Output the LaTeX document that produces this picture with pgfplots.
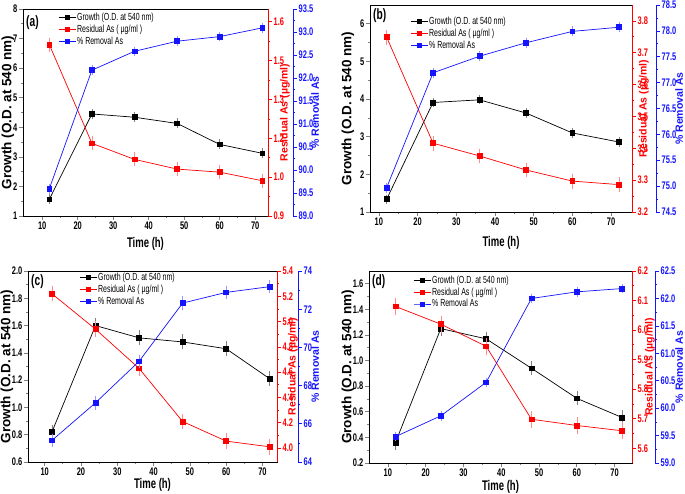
\documentclass[border=0pt]{standalone}
\usepackage{fontspec}
\setmainfont{Liberation Sans}
\newfontfamily\nf[FakeStretch=0.68]{Liberation Sans}
\usepackage{pgfplots}
\pgfplotsset{compat=1.18}
\definecolor{rr}{RGB}{255,0,0}
\definecolor{bb}{RGB}{20,20,255}
\pgfplotsset{
  every axis/.append style={scale only axis, anchor=south west, tick align=outside,
    major tick length=4pt, minor tick length=2pt,
    /pgf/number format/assume math mode=true,
    tick label style={font=\nf\bfseries\fontsize{11}{11}\selectfont},
    xticklabel style={inner sep=1.5pt}, yticklabel style={inner sep=1.5pt},
    scaled ticks=false, axis line style={line width=0.8pt},
    every tick/.append style={line width=0.7pt}},
  leftax/.style={xtick={10,20,30,40,50,60,70}, minor x tick num=1, xtick pos=bottom, ytick pos=left,
    minor y tick num=1,
    xlabel={Time (h)}, ylabel={Growth (O.D. at 540 nm)},
    xlabel style={font=\nf\bfseries\fontsize{14}{14}\selectfont},
    ylabel style={font=\bfseries\fontsize{13.5}{13.5}\selectfont},
    legend style={draw=none, fill=none, anchor=north west,
      font=\nf\fontsize{10.3}{10.3}\selectfont, row sep=0.6pt, inner sep=0pt,
      nodes={inner sep=1.2pt}},
    legend cell align=left,
    legend image code/.code={\draw[##1, mark repeat=2, mark phase=2, mark size=2pt] plot coordinates {(0pt,0pt) (8.5pt,0pt) (17pt,0pt)};},
  },
  redax/.style={axis x line=none, axis y line*=right, axis line style={rr, line width=0.8pt}, tick style={rr},
    yticklabel style={rr}, minor y tick num=1, ylabel={Residual As (µg/ml)}},
  blueax/.style={axis x line=none, axis y line*=right, axis line style={bb, line width=0.8pt}, tick style={bb},
    yticklabel style={bb}, minor y tick num=1, ylabel={\% Removal As}},
  rlab/.style={every axis y label/.style={at={([xshift=#1]rel axis cs:1,0.5)}, rotate=90, anchor=center, rr,
    font=\bfseries\fontsize{10.5}{10.5}\selectfont}},
  blab/.style={every axis y label/.style={at={([xshift=#1]rel axis cs:1,0.5)}, rotate=90, anchor=center, bb,
    font=\bfseries\fontsize{10.5}{10.5}\selectfont}},
  blk/.style={black, line width=0.7pt, mark=square*, mark size=2.4pt,
    error bars/.cd, y dir=both, y explicit, error bar style={gray, line width=0.5pt},
    error mark options={gray, mark size=2pt, line width=0.5pt}},
  red/.style={rr, line width=0.7pt, mark=square*, mark size=2.4pt,
    error bars/.cd, y dir=both, y explicit, error bar style={rr!45, line width=0.5pt},
    error mark options={rr!45, mark size=2pt, line width=0.5pt}},
  blu/.style={bb, line width=0.7pt, mark=square*, mark size=2.4pt,
    error bars/.cd, y dir=both, y explicit, error bar style={bb!45, line width=0.5pt},
    error mark options={bb!45, mark size=2pt, line width=0.5pt}},
  onedec/.style={yticklabel style={/pgf/number format/fixed, /pgf/number format/fixed zerofill, /pgf/number format/precision=1}},
}
\begin{document}
\begin{tikzpicture}
\path[use as bounding box] (0pt,0pt) rectangle (685pt,494pt);

% ================= (a) =================
\begin{axis}[leftax, at={(23pt,278pt)}, width=245pt, height=207pt,
  xmin=4.6, xmax=73.6, ymin=1, ymax=8, ytick={1,2,3,4,5,6,7,8},
  ylabel style={at={([xshift=-15pt]rel axis cs:0,0.5)}, anchor=center},
  xlabel style={at={([yshift=-28pt]rel axis cs:0.5,0)}, anchor=center},
  legend style={at={([xshift=35pt,yshift=-2.5pt]rel axis cs:0,1)}}]
\addplot[blk] coordinates {(12,1.56)+-(0,0.1) (24,4.45)+-(0,0.1) (36,4.34)+-(0,0.1) (48,4.13)+-(0,0.1) (60,3.42)+-(0,0.1) (72,3.12)+-(0,0.1)};
\addlegendentry{Growth (O.D. at 540 nm)}
\addlegendimage{rr, line width=0.7pt, mark=square*}
\addlegendentry{Residual As ( µg/ml )}
\addlegendimage{bb, line width=0.7pt, mark=square*}
\addlegendentry{\% Removal As}
\node[anchor=west, font=\nf\bfseries\fontsize{15}{15}\selectfont, inner sep=0pt] at ([xshift=3pt,yshift=-14pt]rel axis cs:0,1) {(a)};
\end{axis}
\begin{axis}[redax, at={(23pt,278pt)}, width=245pt, height=207pt,
  xmin=4.6, xmax=73.6, ymin=0.9, ymax=1.646,
  ytick={0.9,1.04,1.18,1.32,1.46,1.60}, yticklabels={0.9,1.0,1.2,1.3,1.5,1.6},
  minor ytick={0.97,1.11,1.25,1.39,1.53}, rlab=17pt]
\addplot[red] coordinates {(12,1.518)+-(0,0.018) (24,1.162)+-(0,0.018) (36,1.104)+-(0,0.018) (48,1.069)+-(0,0.018) (60,1.058)+-(0,0.018) (72,1.027)+-(0,0.018)};
\end{axis}
\begin{axis}[blueax, at={(23pt,278pt)}, width=270pt, height=207pt,
  xmin=4.6, xmax=80.64, ymin=89, ymax=93.5,
  ytick={89,89.5,90,90.5,91,91.5,92,92.5,93,93.5}, onedec, blab=22pt]
\addplot[blu] coordinates {(12,89.59)+-(0,0.06) (24,92.17)+-(0,0.06) (36,92.58)+-(0,0.06) (48,92.80)+-(0,0.06) (60,92.90)+-(0,0.06) (72,93.09)+-(0,0.06)};
\end{axis}

% ================= (b) =================
\begin{axis}[leftax, at={(370pt,282pt)}, width=262pt, height=207pt,
  xmin=7.7, xmax=75.4, ymin=1, ymax=6.5, ytick={1,2,3,4,5,6},
  ylabel style={at={([xshift=-22pt]rel axis cs:0,0.5)}, anchor=center},
  xlabel style={at={([yshift=-31pt]rel axis cs:0.5,0)}, anchor=center},
  legend style={at={([xshift=40pt,yshift=-10.5pt]rel axis cs:0,1)}}]
\addplot[blk] coordinates {(12,1.34)+-(0,0.07) (24,3.91)+-(0,0.07) (36,3.98)+-(0,0.07) (48,3.63)+-(0,0.07) (60,3.10)+-(0,0.07) (72,2.86)+-(0,0.07)};
\addlegendentry{Growth (O.D. at 540 nm)}
\addlegendimage{rr, line width=0.7pt, mark=square*}
\addlegendentry{Residual As ( µg/ml )}
\addlegendimage{bb, line width=0.7pt, mark=square*}
\addlegendentry{\% Removal As}
\node[anchor=west, font=\nf\bfseries\fontsize{15}{15}\selectfont, inner sep=0pt] at ([xshift=3pt,yshift=-11pt]rel axis cs:0,1) {(b)};
\end{axis}
\begin{axis}[redax, at={(370pt,282pt)}, width=262pt, height=207pt,
  xmin=7.7, xmax=75.4, ymin=3.2, ymax=3.85,
  ytick={3.2,3.3,3.4,3.5,3.6,3.7,3.8}, onedec, rlab=12pt]
\addplot[red] coordinates {(12,3.749)+-(0,0.017) (24,3.416)+-(0,0.017) (36,3.376)+-(0,0.017) (48,3.332)+-(0,0.017) (60,3.297)+-(0,0.017) (72,3.286)+-(0,0.017)};
\end{axis}
\begin{axis}[blueax, at={(370pt,282pt)}, width=286pt, height=207pt,
  xmin=7.7, xmax=81.6, ymin=74.5, ymax=78.5,
  ytick={74.5,75,75.5,76,76.5,77,77.5,78,78.5}, onedec, blab=23pt]
\addplot[blu] coordinates {(12,74.97)+-(0,0.06) (24,77.19)+-(0,0.06) (36,77.51)+-(0,0.06) (48,77.77)+-(0,0.06) (60,77.99)+-(0,0.06) (72,78.07)+-(0,0.06)};
\end{axis}

% ================= (c) =================
\begin{axis}[leftax, at={(28pt,32pt)}, width=249pt, height=191pt,
  xmin=5.4, xmax=74, ymin=0.6, ymax=2.0, ytick={0.6,0.8,1.0,1.2,1.4,1.6,1.8,2.0}, onedec,
  ylabel style={at={([xshift=-21pt]rel axis cs:0,0.5)}, anchor=center},
  xlabel style={at={([yshift=-23pt]rel axis cs:0.5,0)}, anchor=center},
  legend style={at={([xshift=51pt,yshift=-0.8pt]rel axis cs:0,1)}}]
\addplot[blk] coordinates {(12,0.82)+-(0,0.04) (24,1.60)+-(0,0.04) (36,1.51)+-(0,0.04) (48,1.48)+-(0,0.04) (60,1.43)+-(0,0.04) (72,1.21)+-(0,0.04)};
\addlegendentry{Growth (O.D. at 540 nm)}
\addlegendimage{rr, line width=0.7pt, mark=square*}
\addlegendentry{Residual As ( µg/ml )}
\addlegendimage{bb, line width=0.7pt, mark=square*}
\addlegendentry{\% Removal As}
\node[anchor=west, font=\nf\bfseries\fontsize{15}{15}\selectfont, inner sep=0pt] at ([xshift=3pt,yshift=-11pt]rel axis cs:0,1) {(c)};
\end{axis}
\begin{axis}[redax, at={(28pt,32pt)}, width=249pt, height=191pt,
  xmin=5.4, xmax=74, ymin=3.89, ymax=5.4,
  ytick={4.0,4.2,4.4,4.6,4.8,5.0,5.2,5.4}, onedec, rlab=16pt]
\addplot[red] coordinates {(12,5.22)+-(0,0.045) (24,4.94)+-(0,0.045) (36,4.63)+-(0,0.045) (48,4.21)+-(0,0.045) (60,4.055)+-(0,0.045) (72,4.01)+-(0,0.045)};
\end{axis}
\begin{axis}[blueax, at={(28pt,32pt)}, width=270pt, height=191pt,
  xmin=5.4, xmax=79.79, ymin=64, ymax=74,
  ytick={64,66,68,70,72,74}, blab=17pt]
\addplot[blu] coordinates {(12,65.13)+-(0,0.25) (24,67.1)+-(0,0.25) (36,69.27)+-(0,0.25) (48,72.32)+-(0,0.25) (60,72.88)+-(0,0.25) (72,73.18)+-(0,0.25)};
\end{axis}

% ================= (d) =================
\begin{axis}[leftax, at={(369pt,31pt)}, width=263pt, height=192pt,
  xmin=5, xmax=74.6, ymin=0.2, ymax=1.7, ytick={0.2,0.4,0.6,0.8,1.0,1.2,1.4,1.6}, onedec,
  ylabel style={at={([xshift=-21pt]rel axis cs:0,0.5)}, anchor=center},
  xlabel style={at={([yshift=-24pt]rel axis cs:0.5,0)}, anchor=center},
  legend style={at={([xshift=44pt,yshift=-3.2pt]rel axis cs:0,1)}}]
\addplot[blk] coordinates {(12,0.36)+-(0,0.04) (24,1.25)+-(0,0.04) (36,1.17)+-(0,0.04) (48,0.94)+-(0,0.04) (60,0.705)+-(0,0.04) (72,0.555)+-(0,0.04)};
\addlegendentry{Growth (O.D. at 540 nm)}
\addlegendimage{rr, line width=0.7pt, mark=square*}
\addlegendentry{Residual As ( µg/ml )}
\addlegendimage{bb, line width=0.7pt, mark=square*}
\addlegendentry{\% Removal As}
\node[anchor=west, font=\nf\bfseries\fontsize{15}{15}\selectfont, inner sep=0pt] at ([xshift=3pt,yshift=-11pt]rel axis cs:0,1) {(d)};
\end{axis}
\begin{axis}[redax, at={(369pt,31pt)}, width=263pt, height=192pt,
  xmin=5, xmax=74.6, ymin=5.55, ymax=6.2,
  ytick={5.6,5.7,5.8,5.9,6.0,6.1,6.2}, onedec, rlab=18pt]
\addplot[red] coordinates {(12,6.08)+-(0,0.022) (24,6.02)+-(0,0.022) (36,5.945)+-(0,0.022) (48,5.698)+-(0,0.022) (60,5.677)+-(0,0.022) (72,5.659)+-(0,0.022)};
\end{axis}
\begin{axis}[blueax, at={(369pt,31pt)}, width=286pt, height=192pt,
  xmin=5, xmax=80.69, ymin=59, ymax=62.5,
  ytick={59,59.5,60,60.5,61,61.5,62,62.5}, onedec, blab=24pt]
\addplot[blu] coordinates {(12,59.48)+-(0,0.05) (24,59.86)+-(0,0.05) (36,60.47)+-(0,0.05) (48,62.0)+-(0,0.05) (60,62.12)+-(0,0.05) (72,62.18)+-(0,0.05)};
\end{axis}
\end{tikzpicture}
\end{document}
